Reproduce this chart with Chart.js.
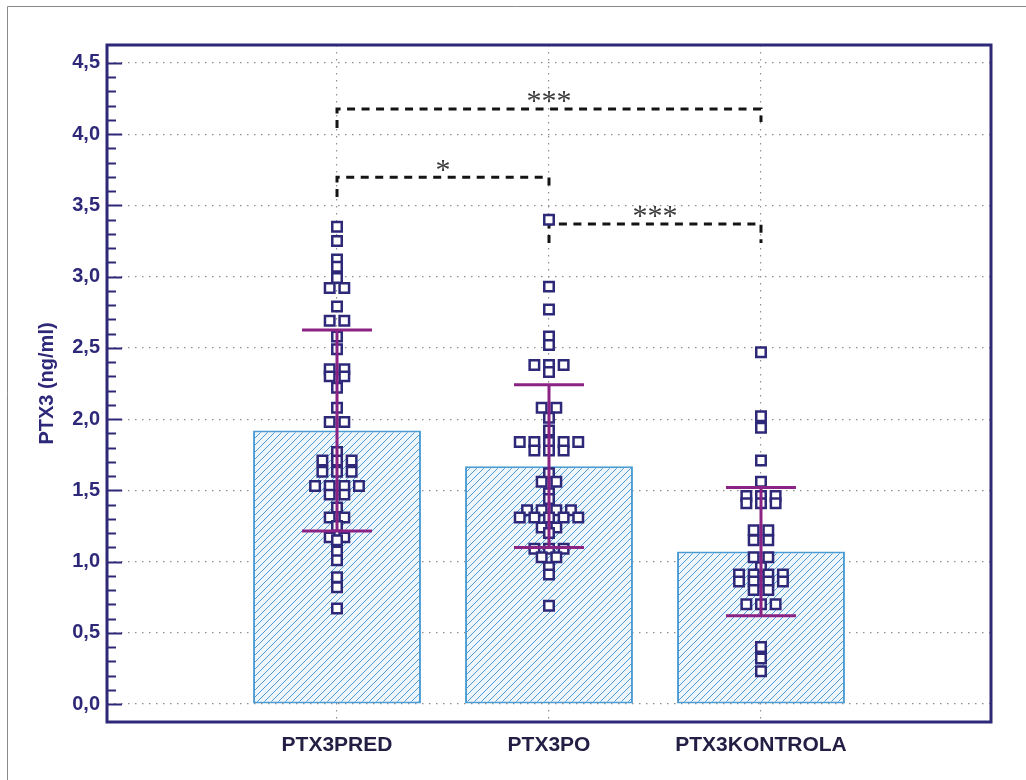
<!DOCTYPE html>
<html>
<head>
<meta charset="utf-8">
<script src="https://cdn.jsdelivr.net/npm/chart.js@4"></script>
<style>
  html, body { margin: 0; padding: 0; background: #ffffff; }
  canvas { display: block; }
</style>
</head>
<body>
<canvas id="chart" width="1026" height="780"></canvas>
<script>
// Groups and their summary statistics (mean and standard deviation, ng/ml)
const categories = ['PTX3PRED', 'PTX3PO', 'PTX3KONTROLA'];
const groupMeans = [1.92, 1.67, 1.07];
const groupSD = [0.705, 0.572, 0.45];

// Individual measurements per group (ng/ml); equal values sit side by side
const ptx3Pred = [
  3.35, 3.25, 3.12, 3.07, 2.99, 2.92, 2.92, 2.79, 2.69, 2.69,
  2.58, 2.49, 2.35, 2.35, 2.30, 2.30, 2.22, 2.08, 1.98, 1.98,
  1.77, 1.71, 1.71, 1.71, 1.63, 1.63, 1.63, 1.53, 1.53, 1.53,
  1.53, 1.47, 1.47, 1.38, 1.31, 1.31, 1.25, 1.17, 1.17, 1.15,
  1.07, 1.01, 0.89, 0.82, 0.67
];
const ptx3Po = [
  3.40, 2.93, 2.77, 2.58, 2.52, 2.38, 2.38, 2.38, 2.33, 2.08,
  2.08, 2.01, 1.92, 1.84, 1.84, 1.84, 1.84, 1.84, 1.78, 1.78,
  1.78, 1.62, 1.56, 1.56, 1.48, 1.44, 1.36, 1.36, 1.36, 1.36,
  1.31, 1.31, 1.31, 1.31, 1.31, 1.24, 1.24, 1.20, 1.09, 1.09,
  1.09, 1.03, 1.03, 0.96, 0.91, 0.69
];
const ptx3Kontrola = [
  2.47, 2.02, 1.94, 1.71, 1.56, 1.46, 1.46, 1.46, 1.41, 1.41,
  1.41, 1.22, 1.22, 1.15, 1.15, 1.03, 1.03, 0.96, 0.91, 0.91,
  0.91, 0.91, 0.86, 0.86, 0.86, 0.86, 0.80, 0.80, 0.70, 0.70,
  0.70, 0.40, 0.32, 0.23
];
const groupValues = [ptx3Pred, ptx3Po, ptx3Kontrola];

// Y axis
const yTicks = [0, 0.5, 1, 1.5, 2, 2.5, 3, 3.5, 4, 4.5];
const yTitle = 'PTX3 (ng/ml)';

// Pairwise comparisons: bracket level, leg ends and significance mark
const comparisons = [
  { from: 0, to: 2, level: 4.177, startLeg: 4.044, endLeg: 4.086, mark: '***' },
  { from: 0, to: 1, level: 3.698, startLeg: 3.559, endLeg: 3.594, mark: '*' },
  { from: 1, to: 2, level: 3.370, startLeg: 3.236, endLeg: 3.236, mark: '***' }
];

// ---- styling constants ----
const NAVY = '#2e2879';
const PURPLE = '#8b2384';
const SWARM_STEP = 0.069;   // horizontal spacing of side-by-side markers (x units)
const CAP_HALF = 0.165;     // half width of the SD caps (x units)
const FONT = "'Liberation Sans', Arial, sans-serif";

// Hatched fill for the bars
function hatchPattern() {
  const s = 7;
  const c = document.createElement('canvas');
  c.width = s; c.height = s;
  const g = c.getContext('2d');
  g.fillStyle = '#eef6fc';
  g.fillRect(0, 0, s, s);
  g.strokeStyle = '#4d9bd6';
  g.lineWidth = 1;
  g.beginPath();
  g.moveTo(0, s); g.lineTo(s, 0);
  g.moveTo(-1, 1); g.lineTo(1, -1);
  g.moveTo(s - 1, s + 1); g.lineTo(s + 1, s - 1);
  g.stroke();
  return g.createPattern(c, 'repeat');
}

// Spread identical values horizontally around the group centre
function swarm(values, index) {
  const counts = new Map();
  values.forEach(v => counts.set(v, (counts.get(v) || 0) + 1));
  const seen = new Map();
  return values.map(v => {
    const n = counts.get(v);
    const k = seen.get(v) || 0;
    seen.set(v, k + 1);
    return { x: index + (k - (n - 1) / 2) * SWARM_STEP, y: v };
  });
}

// Mean ± SD whiskers with caps, broken into segments by null points
const errorBarPoints = [];
categories.forEach((c, i) => {
  const hi = groupMeans[i] + groupSD[i];
  const lo = groupMeans[i] - groupSD[i];
  errorBarPoints.push(
    { x: i - CAP_HALF, y: hi }, { x: i + CAP_HALF, y: hi }, { x: i, y: null },
    { x: i, y: hi }, { x: i, y: lo }, { x: i, y: null },
    { x: i - CAP_HALF, y: lo }, { x: i + CAP_HALF, y: lo }, { x: i, y: null }
  );
});

const bracketDatasets = comparisons.map(cmp => ({
  type: 'line',
  data: [
    { x: cmp.from, y: cmp.startLeg },
    { x: cmp.from, y: cmp.level },
    { x: cmp.to, y: cmp.level },
    { x: cmp.to, y: cmp.endLeg }
  ],
  borderColor: '#141414',
  borderWidth: 3,
  borderDash: [8, 6.5],
  pointRadius: 0,
  fill: false,
  tension: 0,
  order: 4
}));

const pointDatasets = groupValues.map((vals, i) => ({
  type: 'scatter',
  data: swarm(vals, i),
  pointStyle: 'rect',
  pointRadius: 6.7,
  pointBorderWidth: 2.5,
  pointBorderColor: NAVY,
  pointBackgroundColor: '#ffffff',
  order: 3
}));

// Frame, inward ticks, outer border and significance marks
const decorations = {
  id: 'decorations',
  beforeDraw(chart) {
    const { ctx } = chart;
    ctx.save();
    ctx.fillStyle = '#ffffff';
    ctx.fillRect(0, 0, chart.width, chart.height);
    ctx.strokeStyle = '#8a8a8a';
    ctx.lineWidth = 1;
    ctx.beginPath();
    ctx.moveTo(7.5, chart.height);
    ctx.lineTo(7.5, 6.5);
    ctx.lineTo(chart.width, 6.5);
    ctx.stroke();
    ctx.restore();
  },
  afterDraw(chart) {
    const { ctx, chartArea: a } = chart;
    const y = chart.scales.y;
    const x = chart.scales.x;
    ctx.save();
    // ticks: majors every 0.5, minors every 0.1, pointing into the plot
    ctx.strokeStyle = NAVY;
    ctx.lineWidth = 2;
    for (let i = 0; i <= 45; i++) {
      const py = Math.round(y.getPixelForValue(i / 10)) + 0.5;
      const len = i % 5 === 0 ? 15 : 9;
      ctx.beginPath();
      ctx.moveTo(a.left, py);
      ctx.lineTo(a.left + len, py);
      ctx.stroke();
    }
    // frame
    ctx.lineWidth = 3;
    ctx.strokeRect(a.left, a.top, a.right - a.left, a.bottom - a.top);
    // significance marks above each bracket
    ctx.fillStyle = '#3a3a3a';
    ctx.font = "30px 'Liberation Serif', 'Times New Roman', serif";
    ctx.textAlign = 'center';
    ctx.textBaseline = 'alphabetic';
    comparisons.forEach(cmp => {
      const px = x.getPixelForValue((cmp.from + cmp.to) / 2);
      const lineY = y.getPixelForValue(cmp.level);
      const m = ctx.measureText(cmp.mark);
      const centreY = lineY - 12;
      const baseY = centreY + (m.actualBoundingBoxAscent - m.actualBoundingBoxDescent) / 2;
      ctx.fillText(cmp.mark, px, baseY);
    });
    ctx.restore();
  }
};

new Chart(document.getElementById('chart'), {
  type: 'bar',
  data: {
    datasets: [
      {
        type: 'line',
        data: errorBarPoints,
        borderColor: PURPLE,
        borderWidth: 3,
        pointRadius: 0,
        spanGaps: false,
        fill: false,
        order: 1
      },
      ...pointDatasets,
      ...bracketDatasets,
      {
        type: 'bar',
        data: categories.map((c, i) => ({ x: i, y: groupMeans[i] })),
        backgroundColor: hatchPattern(),
        borderColor: '#4b9cd3',
        borderWidth: 2,
        borderSkipped: false,
        categoryPercentage: 1,
        barPercentage: 0.792,
        order: 5
      }
    ]
  },
  options: {
    responsive: false,
    animation: false,
    events: [],
    layout: { padding: { left: 7, top: 45, right: 35, bottom: 0 } },
    plugins: { legend: { display: false }, tooltip: { enabled: false } },
    scales: {
      x: {
        type: 'linear',
        min: -1.085,
        max: 3.085,
        offset: false,
        afterBuildTicks: s => { s.ticks = categories.map((c, i) => ({ value: i })); },
        afterFit: s => { s.height = 58; },
        grid: { offset: false, color: '#8f8f8f', lineWidth: 1.2, drawTicks: false },
        border: { display: false, dash: [1.5, 5.5] },
        ticks: {
          padding: 11,
          color: '#221e44',
          font: { family: FONT, size: 21, weight: 'bold' },
          callback: v => categories[v]
        }
      },
      y: {
        type: 'linear',
        min: -0.126,
        max: 4.626,
        afterBuildTicks: s => { s.ticks = yTicks.map(v => ({ value: v })); },
        afterFit: s => { s.width = 100; },
        grid: { color: '#8f8f8f', lineWidth: 1.2, drawTicks: false },
        border: { display: false, dash: [1.5, 5.5] },
        ticks: {
          padding: 7,
          color: NAVY,
          font: { family: FONT, size: 20, weight: 'bold' },
          callback: v => v.toFixed(1).replace('.', ',')
        },
        title: {
          display: true,
          text: yTitle,
          color: NAVY,
          padding: { top: 28, bottom: 0 },
          font: { family: FONT, size: 20, weight: 'bold' }
        }
      }
    }
  },
  plugins: [decorations]
});
</script>
</body>
</html>
